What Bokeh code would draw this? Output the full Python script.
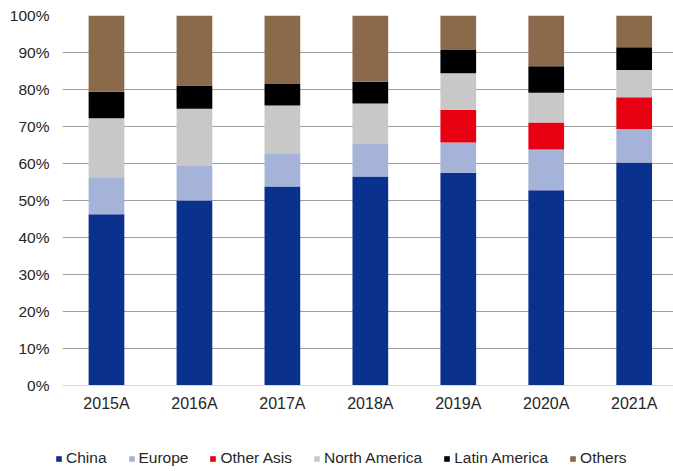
from bokeh.plotting import figure
from bokeh.layouts import column
from bokeh.models import ColumnDataSource, FixedTicker, NumeralTickFormatter, Legend, LegendItem
from bokeh.embed import file_html
from bokeh.resources import INLINE

years = ["2015A", "2016A", "2017A", "2018A", "2019A", "2020A", "2021A"]
china = [46.3, 50.0, 53.8, 56.5, 57.5, 52.8, 60.3]
europe = [10.0, 9.3, 9.0, 8.8, 8.2, 11.0, 9.0]
other_asia = [0.0, 0.0, 0.0, 0.0, 8.8, 7.3, 8.6]
north_america = [15.9, 15.5, 12.9, 10.9, 9.9, 8.0, 7.4]
latin_america = [7.2, 6.3, 5.8, 5.9, 6.3, 7.2, 6.1]
others = [20.6, 18.9, 18.5, 17.9, 9.3, 13.7, 8.6]
y_ticks = [0, 0.1, 0.2, 0.3, 0.4, 0.5, 0.6, 0.7, 0.8, 0.9, 1.0]

names = ["China", "Europe", "Other Asis", "North America", "Latin America", "Others"]
keys = ["china", "europe", "other_asia", "north_america", "latin_america", "others"]
colors = ["#0B318F", "#A6B3D9", "#E60012", "#C8C8C8", "#000000", "#8A6A4B"]
series = [china, europe, other_asia, north_america, latin_america, others]

data = {"x": list(range(len(years)))}
for k, s in zip(keys, series):
    data[k] = [v / 100.0 for v in s]
source = ColumnDataSource(data)

font = "Liberation Sans"
text_color = "#262626"

p = figure(width=673, height=420, output_backend="svg", toolbar_location=None,
           x_range=(-0.5, 6.447), y_range=(0, 1),
           min_border_left=62, min_border_right=0, min_border_top=15, min_border_bottom=35)
p.outline_line_color = None
p.frame_align = False

p.vbar_stack(keys, x="x", width=0.406, source=source, color=colors, line_color=None)

p.xaxis.ticker = FixedTicker(ticks=list(range(len(years))))
p.xaxis.major_label_overrides = {i: y for i, y in enumerate(years)}
p.xaxis.major_tick_line_color = None
p.xaxis.minor_tick_line_color = None
p.xaxis.major_tick_out = 0
p.xaxis.axis_line_color = "#d9d9d9"
p.xaxis.major_label_standoff = 9
p.xaxis.major_label_text_font = font
p.xaxis.major_label_text_font_size = "16px"
p.xaxis.major_label_text_color = text_color

p.yaxis.ticker = FixedTicker(ticks=y_ticks)
p.yaxis.formatter = NumeralTickFormatter(format="0%")
p.yaxis.major_tick_line_color = None
p.yaxis.minor_tick_line_color = None
p.yaxis.axis_line_color = None
p.yaxis.major_tick_out = 0
p.yaxis.major_label_standoff = 13
p.yaxis.major_label_text_font = font
p.yaxis.major_label_text_font_size = "15.5px"
p.yaxis.major_label_text_color = text_color

p.xgrid.grid_line_color = None
p.ygrid.ticker = FixedTicker(ticks=y_ticks)
p.ygrid.grid_line_color = "#a0a0a0"
p.ygrid.grid_line_width = 1

# legend strip below the chart (its bars lie outside its visible range;
# only the legend of this strip is seen)
lg = figure(width=673, height=51, output_backend="svg", toolbar_location=None,
            x_range=(-100, -99), y_range=(0, 1),
            min_border=0, min_border_left=0, min_border_right=0,
            min_border_top=0, min_border_bottom=0)
lg.frame_align = False
lg.axis.visible = False
lg.grid.visible = False
lg.outline_line_color = None
rs = lg.vbar_stack(keys, x="x", width=0.406, source=source, color=colors, line_color=None)
items = [LegendItem(label=n, renderers=[r]) for n, r in zip(names, rs)]
legend = Legend(items=items, orientation="horizontal", location=(55, 4),
                glyph_width=7, glyph_height=7, label_standoff=4, spacing=21,
                padding=0, margin=0, label_height=16,
                label_text_font=font, label_text_font_size="15.5px",
                label_text_color=text_color,
                border_line_color=None, background_fill_alpha=0)
lg.add_layout(legend, "center")

layout = column(p, lg, spacing=0)
open("out.html", "w").write(file_html(layout, INLINE))
